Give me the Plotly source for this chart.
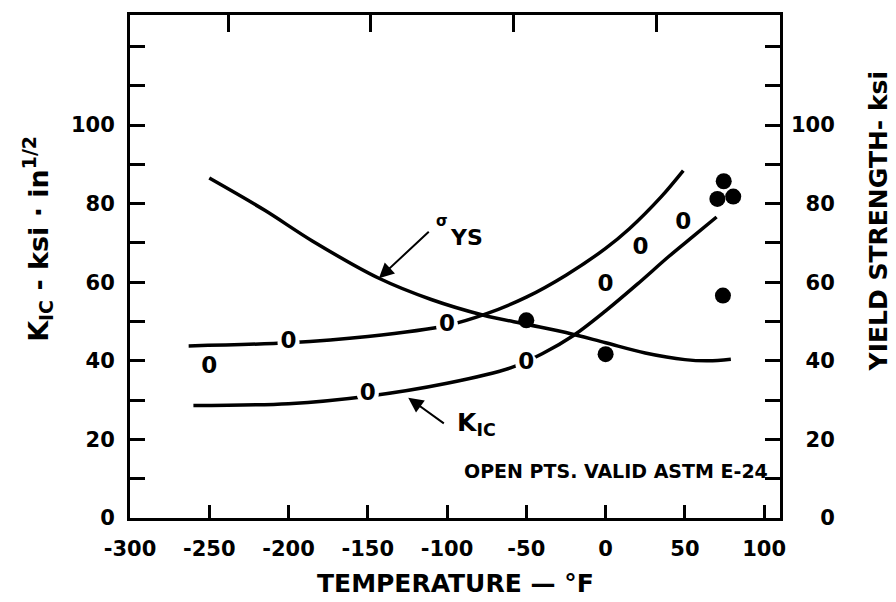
import plotly.graph_objects as go

# ---- data (temperature in °F) ----
# yield strength curve (ksi)
sigma_ys_temp = [-250, -215, -185, -143, -110, -77, -50, -25, 0, 25, 50, 65, 79]
sigma_ys_ksi = [86.5, 78.3, 70.5, 61.0, 55.6, 51.6, 49.3, 47.2, 44.6, 42.0, 40.3, 40.0, 40.4]

# upper K_IC band curve
kic_upper_temp = [-263, -200, -150, -100, -75, -50, -25, 0, 15, 35, 49]
kic_upper_val = [43.8, 44.6, 46.2, 49.0, 52.0, 56.2, 61.8, 68.6, 73.6, 81.7, 88.4]

# lower K_IC band curve
kic_lower_temp = [-260, -200, -150, -100, -60, -40, -20, 0, 20, 40, 55, 70]
kic_lower_val = [28.6, 29.1, 31.0, 34.3, 38.2, 41.8, 46.5, 52.7, 59.5, 66.6, 71.6, 76.6]

# K_IC test points: valid per ASTM E-24 (open) and not valid (filled)
valid_temp = [-250, -200, -150, -100, -50, 0, 22, 49]
valid_kic = [38.3, 44.6, 31.6, 49.0, 39.3, 59.3, 68.6, 74.9]
invalid_temp = [-50, 0, 74, 74.5, 70.5, 80.5]
invalid_kic = [50.3, 41.7, 56.6, 85.7, 81.2, 81.8]

# ---- axes ----
x_range = [-300, 110]
x_ticks = [-300, -250, -200, -150, -100, -50, 0, 50, 100]
x_labels = ["-300", "-250", "-200", "-150", "-100", "-50", "0", "50", "100"]
celsius_ticks = [-150, -100, -50, 0]
y_range = [0, 128]
y_ticks = list(range(0, 130, 10))
y_left_labels = [str(v) if v % 20 == 0 and v <= 100 else "" for v in y_ticks]
y_right_labels = [(str(v).rjust(3, "\u2007") if v % 20 == 0 and v <= 100 else "") for v in y_ticks]

FONT = "DejaVu Sans"
BLACK = "black"

fig = go.Figure()

line_style = dict(color=BLACK, width=3.5, shape="spline", smoothing=0.9)
fig.add_trace(go.Scatter(x=kic_upper_temp, y=kic_upper_val, mode="lines", line=line_style,
                         hoverinfo="skip", showlegend=False))
fig.add_trace(go.Scatter(x=kic_lower_temp, y=kic_lower_val, mode="lines", line=line_style,
                         hoverinfo="skip", showlegend=False))
fig.add_trace(go.Scatter(x=sigma_ys_temp, y=sigma_ys_ksi, mode="lines", line=line_style,
                         yaxis="y2", hoverinfo="skip", showlegend=False))

# white halos break the curves around each point
fig.add_trace(go.Scatter(x=valid_temp, y=valid_kic, mode="markers",
                         marker=dict(color="white", size=22, line=dict(width=0)),
                         hoverinfo="skip", showlegend=False))
fig.add_trace(go.Scatter(x=invalid_temp, y=invalid_kic, mode="markers",
                         marker=dict(color="white", size=27, line=dict(width=0)),
                         hoverinfo="skip", showlegend=False))
fig.add_trace(go.Scatter(x=valid_temp, y=valid_kic, mode="text", text=["0"] * len(valid_temp),
                         textposition="middle center",
                         textfont=dict(family=FONT, size=23, color=BLACK, weight="bold"),
                         showlegend=False))
fig.add_trace(go.Scatter(x=invalid_temp, y=invalid_kic, mode="markers",
                         marker=dict(color=BLACK, size=16, line=dict(width=0)),
                         showlegend=False))

# carrier for the Celsius tick marks on the top edge
fig.add_trace(go.Scatter(x=[celsius_ticks[0]], y=[0], xaxis="x2", mode="markers",
                         marker=dict(size=0, opacity=0), hoverinfo="skip", showlegend=False))

tickfont = dict(family=FONT, size=21, color=BLACK, weight="bold")
fig.update_layout(
    width=896, height=602,
    margin=dict(l=130, r=116, t=13, b=84),
    paper_bgcolor="white", plot_bgcolor="white",
    font=dict(family=FONT, color=BLACK),
    showlegend=False,
    xaxis=dict(range=x_range, tickvals=x_ticks, ticktext=x_labels, ticks="inside",
               ticklen=13, tickwidth=2.5, tickcolor=BLACK, showline=True, linewidth=3,
               linecolor=BLACK, mirror=True, showgrid=False, zeroline=False,
               tickfont=tickfont, ticklabelstandoff=10),
    xaxis2=dict(overlaying="x", side="top",
                range=[(x_range[0] - 32) / 1.8, (x_range[1] - 32) / 1.8],
                tickvals=celsius_ticks, ticks="inside", ticklen=17, tickwidth=2.5,
                tickcolor=BLACK, showticklabels=False, showline=False, showgrid=False,
                zeroline=False),
    yaxis=dict(range=y_range, tickvals=y_ticks, ticktext=y_left_labels, ticks="inside",
               ticklen=15, tickwidth=2.5, tickcolor=BLACK, showline=True, linewidth=3,
               linecolor=BLACK, mirror=True, showgrid=False, zeroline=False,
               tickfont=tickfont, ticklabelstandoff=8),
    yaxis2=dict(overlaying="y", side="right", range=y_range, tickvals=y_ticks,
                ticktext=y_right_labels, ticks="inside", ticklen=15, tickwidth=2.5,
                tickcolor=BLACK, showline=False, showgrid=False, zeroline=False,
                tickfont=tickfont, ticklabelstandoff=10),
)

# axis titles
fig.add_annotation(text="TEMPERATURE — °F", xref="paper", yref="paper", x=0.5, y=-0.131,
                   xanchor="center", yanchor="middle", showarrow=False,
                   font=dict(family=FONT, size=25, color=BLACK, weight="bold"))
fig.add_annotation(text="K<sub>IC</sub> - ksi · in<sup>1/2</sup>", xref="paper", yref="paper",
                   x=-0.1415, y=0.555, xanchor="center", yanchor="middle", textangle=-90,
                   showarrow=False, font=dict(family=FONT, size=27, color=BLACK, weight="bold"))
fig.add_annotation(text="YIELD STRENGTH- ksi", xref="paper", yref="paper", x=1.151, y=0.59,
                   xanchor="center", yanchor="middle", textangle=-90, showarrow=False,
                   font=dict(family=FONT, size=25, color=BLACK, weight="bold"))

# curve labels with leader arrows
fig.add_annotation(x=-143, y=61, ax=-110.6, ay=73.2, xref="x", yref="y", axref="x", ayref="y",
                   text="", showarrow=True, arrowhead=2, arrowsize=1.5, arrowwidth=2,
                   arrowcolor=BLACK)
fig.add_annotation(text="σ", x=-103.5, y=75.7, xref="x", yref="y", showarrow=False,
                   font=dict(family=FONT, size=15, color=BLACK, weight="bold"))
fig.add_annotation(text="YS", x=-88, y=71.4, xref="x", yref="y", showarrow=False,
                   font=dict(family=FONT, size=22, color=BLACK, weight="bold"))

fig.add_annotation(x=-124.5, y=30.6, ax=-101.1, ay=23.8, xref="x", yref="y", axref="x", ayref="y",
                   text="", showarrow=True, arrowhead=2, arrowsize=1.5, arrowwidth=2,
                   arrowcolor=BLACK)
fig.add_annotation(text="K<sub>IC</sub>", x=-94.8, y=23.8, xref="x", yref="y", xanchor="left",
                   showarrow=False, font=dict(family=FONT, size=25, color=BLACK, weight="bold"))

fig.add_annotation(text="OPEN PTS. VALID ASTM E-24", x=104, y=11.9, xref="x", yref="y",
                   xanchor="right", yanchor="middle", showarrow=False,
                   font=dict(family=FONT, size=19, color=BLACK, weight="bold"))

fig.write_html("out.html")
